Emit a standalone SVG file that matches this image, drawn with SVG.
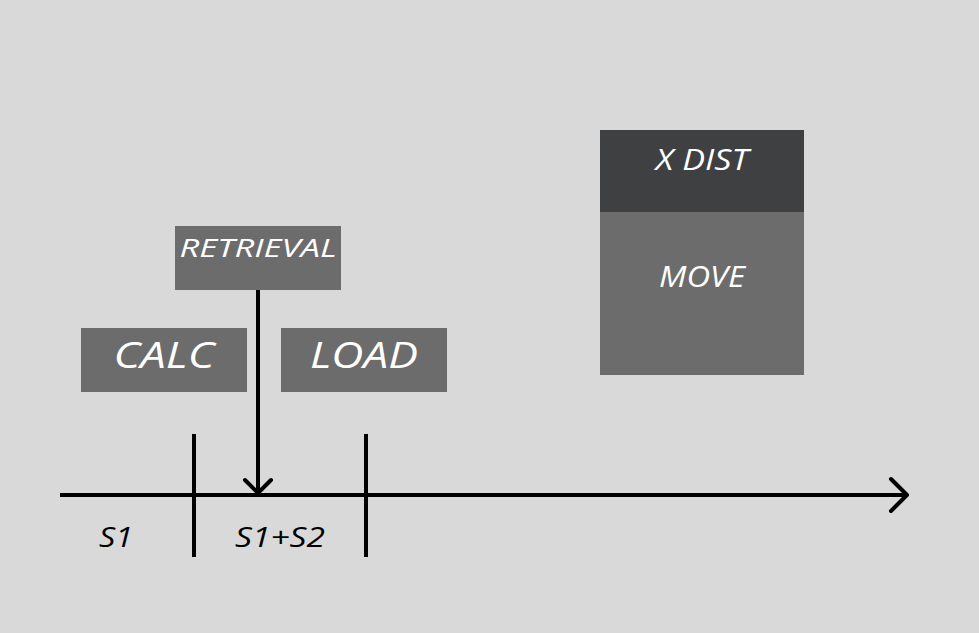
<svg xmlns="http://www.w3.org/2000/svg" width="979" height="633" viewBox="0 0 979 633">
<style>
.bg{fill:#d9d9d9}
.box{fill:#6c6c6c}
.dark{fill:#3f4042}
.t{font-family:"Open Sans",Lato,"Liberation Sans",sans-serif;font-style:italic;fill:#ffffff;text-anchor:middle}
.lbl{font-family:"Open Sans",Lato,"Liberation Sans",sans-serif;font-style:italic;fill:#000000;text-anchor:middle;font-size:27px}
.ln{stroke:#000;stroke-width:4;fill:none;stroke-linecap:round;stroke-linejoin:round}
.tick{stroke:#000;stroke-width:4;fill:none}
</style>
<rect class="bg" x="0" y="0" width="979" height="633"/>
<g id="connectors">
<path class="ln" d="M60 495 H907" style="stroke-linecap:butt"/>
<path class="ln" d="M891 479 L907 495 L891 511"/>
<path class="tick" d="M194 434 V557"/>
<path class="tick" d="M366 434 V557"/>
<path class="tick" d="M258 290 V492"/>
<path class="ln" d="M245 480 L258 493 L271 480"/>
</g>
<g id="retrieval">
<rect class="box" x="175" y="226" width="166" height="64"/>
<text class="t" x="258" y="257" font-size="26" textLength="157" lengthAdjust="spacingAndGlyphs">RETRIEVAL</text>
</g>
<g id="calc">
<rect class="box" x="81" y="328" width="166" height="64"/>
<text class="t" x="164" y="368" font-size="36" textLength="101" lengthAdjust="spacingAndGlyphs">CALC</text>
</g>
<g id="load">
<rect class="box" x="281" y="328" width="166" height="64"/>
<text class="t" x="364" y="368" font-size="36" textLength="108" lengthAdjust="spacingAndGlyphs">LOAD</text>
</g>
<g id="xdist">
<rect class="dark" x="600" y="130" width="204" height="82"/>
<text class="t" x="702" y="170" font-size="29" textLength="93" lengthAdjust="spacingAndGlyphs">X DIST</text>
</g>
<g id="move">
<rect class="box" x="600" y="212" width="204" height="163"/>
<text class="t" x="702" y="287" font-size="29" textLength="86" lengthAdjust="spacingAndGlyphs">MOVE</text>
</g>
<g id="s1">
<text class="lbl" x="116" y="547" textLength="34" lengthAdjust="spacingAndGlyphs">S1</text>
</g>
<g id="s1s2">
<text class="lbl" x="280" y="547" textLength="90" lengthAdjust="spacingAndGlyphs">S1+S2</text>
</g>
</svg>
